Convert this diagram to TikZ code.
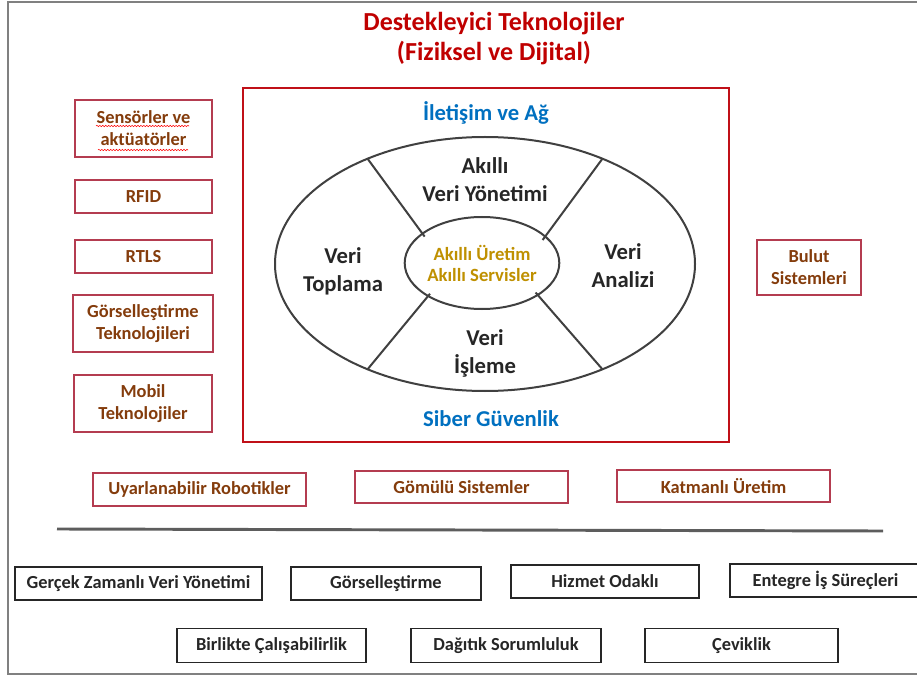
\documentclass[tikz,border=0pt]{standalone}
\usepackage{fontspec}
\setmainfont{Carlito}
\usetikzlibrary{shapes.geometric,calc,decorations.pathmorphing}
\definecolor{titlered}{RGB}{192,0,0}
\definecolor{framered}{RGB}{192,16,24}
\definecolor{boxred}{RGB}{180,60,80}
\definecolor{boxtext}{RGB}{132,60,12}
\definecolor{netblue}{RGB}{0,112,192}
\definecolor{gold}{RGB}{191,144,0}
\definecolor{ink}{RGB}{38,38,38}
\definecolor{rim}{RGB}{64,64,64}
\definecolor{border}{RGB}{128,128,128}
\tikzset{
  redbox/.style={draw=boxred, line width=0.9pt, text=boxtext, align=center,
    inner sep=0pt, font=\fontsize{13.8}{16.5}\selectfont\bfseries},
  blackbox/.style={draw=ink, line width=1.1pt, text=ink, align=center,
    inner sep=0pt, font=\fontsize{13.8}{16.5}\selectfont\bfseries},
  sector/.style={text=ink, align=center, font=\fontsize{17}{21}\selectfont\bfseries},
  layer/.style={text=netblue, font=\fontsize{17}{20}\selectfont\bfseries},
  spoke/.style={draw=rim, line width=1.5pt},
  spell/.style={draw=red, line width=0.4pt, decorate,
    decoration={snake, amplitude=0.5pt, segment length=2.2pt}}
}
\begin{document}
\begin{tikzpicture}[x=0.75pt,y=-0.75pt]
\clip (0,0) rectangle (917,677);
\fill[white] (0,0) rectangle (917,677);

% outer frame, open on the right
\draw[border, line width=1.6pt] (930,2) -- (8,2) -- (8,674) -- (930,674);

% title
\node[text=titlered, align=center, font=\fontsize{19.5}{22.5}\selectfont\bfseries]
  (title) at (494,39) {Destekleyici Teknolojiler\\(Fiziksel ve Dijital)};

% central frame
\draw[framered, line width=1.8pt] (243,88) rectangle (729,442);
\node[layer] (net) at (486,113) {İletişim ve Ağ};
\node[layer] (sec) at (491,419) {Siber Güvenlik};

% rings
\node[ellipse, draw=rim, line width=1.5pt, minimum width=315pt, minimum height=190.5pt,
  inner sep=0pt] (outer) at (485,264) {};
\node[ellipse, draw=rim, line width=1.5pt, minimum width=105pt, minimum height=69pt,
  inner sep=0pt, text=gold, align=center, font=\fontsize{14}{15.75}\selectfont\bfseries]
  (inner) at (482,263) {Akıllı Üretim\\Akıllı Servisler};

% spokes between the rings
\coordinate (o1) at ($(outer.center)+(124:157.5pt and 95.25pt)$);
\coordinate (o2) at ($(outer.center)+(56:157.5pt and 95.25pt)$);
\coordinate (o3) at ($(outer.center)+(236:157.5pt and 95.25pt)$);
\coordinate (o4) at ($(outer.center)+(304:157.5pt and 95.25pt)$);
\coordinate (i1) at ($(inner.center)+(145:52.5pt and 34.5pt)$);
\coordinate (i2) at ($(inner.center)+(30:52.5pt and 34.5pt)$);
\coordinate (i3) at ($(inner.center)+(222:52.5pt and 34.5pt)$);
\coordinate (i4) at ($(inner.center)+(320:52.5pt and 34.5pt)$);
\draw[spoke] (o1) -- (i1);
\draw[spoke] (o2) -- (i2);
\draw[spoke] (o3) -- (i3);
\draw[spoke] (o4) -- (i4);

% sector labels
\node[sector] (mgmt) at (485,180) {Akıllı\\Veri Yönetimi};
\node[sector] (collect) at (343,271) {Veri\\Toplama};
\node[sector] (analyse) at (623,266) {Veri\\Analizi};
\node[sector] (process) at (485,353) {Veri\\İşleme};

% physical and digital technologies, left column
\node[redbox, minimum width=102.75pt, minimum height=42.75pt] (sens) at (143.5,128.5)
  {Sensörler ve\\aktüatörler};
\node[redbox, minimum width=102.75pt, minimum height=24.75pt] (rfid) at (143.5,196.5) {RFID};
\node[redbox, minimum width=102.75pt, minimum height=24.75pt] (rtls) at (143.5,256.5) {RTLS};
\node[redbox, minimum width=105pt, minimum height=42.75pt] (vis) at (143,323.5)
  {Görselleştirme\\Teknolojileri};
\node[redbox, minimum width=103.5pt, minimum height=42.75pt] (mob) at (143,403.5)
  {Mobil\\Teknolojiler};
\node[redbox, minimum width=78pt, minimum height=41.25pt] (cloud) at (809,267.5)
  {Bulut\\Sistemleri};

% spelling marks under the first box
\draw[spell] (96,126) -- (189,126);
\draw[spell] (98,150) -- (188,150);

% lower row of technologies
\node[redbox, minimum width=159.75pt, minimum height=24.75pt] (robot) at (199.5,489.5)
  {Uyarlanabilir Robotikler};
\node[redbox, minimum width=159.75pt, minimum height=24pt] (embed) at (461.5,487)
  {Gömülü Sistemler};
\node[redbox, minimum width=159.75pt, minimum height=24pt] (additive) at (723.5,486)
  {Katmanlı Üretim};

% separator
\coordinate (sepL) at (57,529);
\coordinate (sepR) at (883,531);
\draw[rim!85, line width=2.2pt] (sepL) -- (sepR);

% design principles
\node[blackbox, minimum width=185.25pt, minimum height=24.75pt] (realtime) at (138.5,583.5)
  {Gerçek Zamanlı Veri Yönetimi};
\node[blackbox, minimum width=142.5pt, minimum height=24.75pt] (visual) at (386,583.5)
  {Görselleştirme};
\node[blackbox, minimum width=141pt, minimum height=24.75pt] (service) at (605,581.5)
  {Hizmet Odaklı};
\node[blackbox, minimum width=143.25pt, minimum height=24.75pt] (integr) at (825.5,580.5)
  {Entegre İş Süreçleri};
\node[blackbox, minimum width=141.75pt, minimum height=25.5pt] (interop) at (271.5,645.5)
  {Birlikte Çalışabilirlik};
\node[blackbox, minimum width=142.5pt, minimum height=25.5pt] (distrib) at (506,645.5)
  {Dağıtık Sorumluluk};
\node[blackbox, minimum width=144.75pt, minimum height=25.5pt] (agile) at (741.5,645.5)
  {Çeviklik};
\end{tikzpicture}
\end{document}
